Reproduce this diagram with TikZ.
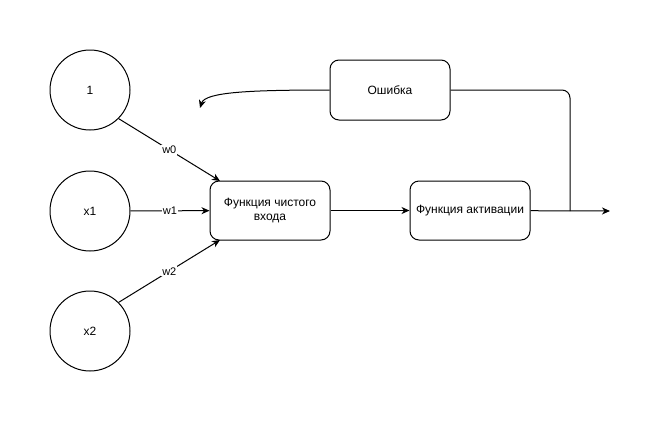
\documentclass[tikz,border=0pt]{standalone}
\usepackage{fontspec}
\setmainfont{Liberation Sans}
\usetikzlibrary{arrows.meta}
\begin{document}
\begin{tikzpicture}[x=1pt,y=-1pt,line width=1pt,
  inp/.style={draw,circle,minimum size=80pt,inner sep=0pt,font=\fontsize{12}{14}\selectfont},
  fbox/.style={draw,rounded corners=9pt,minimum width=120pt,minimum height=59pt,align=center,inner sep=2pt,font=\fontsize{12}{14.5}\selectfont},
  arr/.style={-{Stealth[length=8pt,width=7pt,inset=2.5pt]}},
  wl/.style={fill=white,inner sep=1pt,font=\fontsize{11}{13}\selectfont}]
\useasboundingbox (0,0) rectangle (669,421);
\node[inp] (one) at (90,90) {1};
\node[inp] (x1) at (90,211) {x1};
\node[inp] (x2) at (90,331) {x2};
\node[fbox] (net) at (270,210.5) {Функция чистого\\входа};
\node[fbox] (act) at (470,210.5) {Функция активации};
\node[fbox,minimum height=60pt] (err) at (390,90) {Ошибка};
\coordinate (out) at (610,211);
\coordinate (split) at (570,211);
\coordinate (fb) at (200,108);
\coordinate (ntop) at (220,181);
\coordinate (nbot) at (220,240);
\draw[arr] (one.-45) -- node[wl,pos=0.5] {w0} (ntop);
\draw[arr] (x1) -- node[wl] {w1} (net);
\draw[arr] (x2.45) -- node[wl,pos=0.5] {w2} (nbot);
\draw[arr] (net) -- (act);
\draw[arr] (act) -- (out);
\draw[rounded corners=8pt] (split) -- (570,90) -- (err.east);
\draw[arr] (err.west) .. controls (250,90) and (205,92) .. (fb);
\end{tikzpicture}
\end{document}
